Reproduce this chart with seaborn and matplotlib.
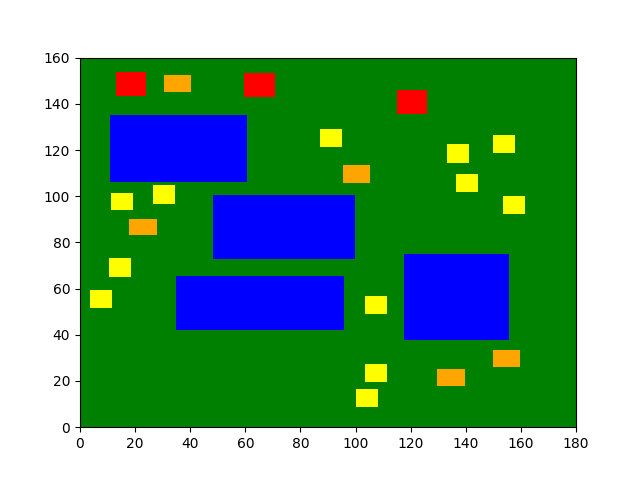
import pandas as pd
import seaborn as sns
import matplotlib
matplotlib.use("Agg")
import matplotlib.pyplot as plt

# rectangles: left, bottom, width, height (data units)
blue_x = [10.9, 48.2, 34.8, 117.6]
blue_y = [106.3, 72.9, 42.2, 37.9]
blue_w = [49.6, 51.6, 61.0, 38.1]
blue_h = [28.7, 27.8, 23.3, 37.2]

red_x = [13.1, 59.6, 115.0]
red_y = [143.2, 142.8, 135.6]
red_w = [10.9, 11.1, 10.9]
red_h = [10.7, 10.4, 10.4]

orange_x = [30.5, 17.8, 95.4, 129.6, 149.9]
orange_y = [145.1, 83.0, 105.6, 17.9, 26.2]
orange_w = [9.7, 10.1, 9.8, 10.1, 9.8]
orange_h = [7.2, 7.3, 7.7, 7.3, 7.2]

yellow_x = [11.2, 26.5, 10.5, 3.6, 87.1, 133.2, 136.4, 149.9, 153.5, 103.4, 103.4, 100.2]
yellow_y = [93.9, 96.7, 65.2, 51.8, 121.2, 114.3, 101.7, 118.6, 92.1, 49.2, 19.7, 8.8]
yellow_w = [8.0] * 12
yellow_h = [7.7, 8.3, 8.1, 7.7, 7.7, 8.1, 7.7, 7.7, 8.2, 7.7, 7.6, 7.7]

groups = [
    ("blue", blue_x, blue_y, blue_w, blue_h),
    ("red", red_x, red_y, red_w, red_h),
    ("orange", orange_x, orange_y, orange_w, orange_h),
    ("yellow", yellow_x, yellow_y, yellow_w, yellow_h),
]
df = pd.concat(
    [pd.DataFrame({"color": c, "x": x, "y": y, "w": w, "h": h})
     for c, x, y, w, h in groups],
    ignore_index=True,
)

sns.set_style("ticks", {
    "axes.edgecolor": "black", "xtick.color": "black", "ytick.color": "black",
    "text.color": "black", "axes.labelcolor": "black",
})
plt.rcParams["font.family"] = ["DejaVu Sans"]
plt.rcParams["font.size"] = 10

fig, ax = plt.subplots(figsize=(6.4, 4.8), dpi=100)
ax.set_facecolor("green")
for color, d in df.groupby("color", sort=False):
    ax.bar(d["x"], d["h"], width=d["w"], bottom=d["y"], align="edge",
           color=color, linewidth=0)

ax.set_xlim(0, 180)
ax.set_ylim(0, 160)
ax.tick_params(labelsize=10, length=3.5, width=0.8)
for s in ax.spines.values():
    s.set_linewidth(0.8)

fig.savefig("out.png", dpi=100)
